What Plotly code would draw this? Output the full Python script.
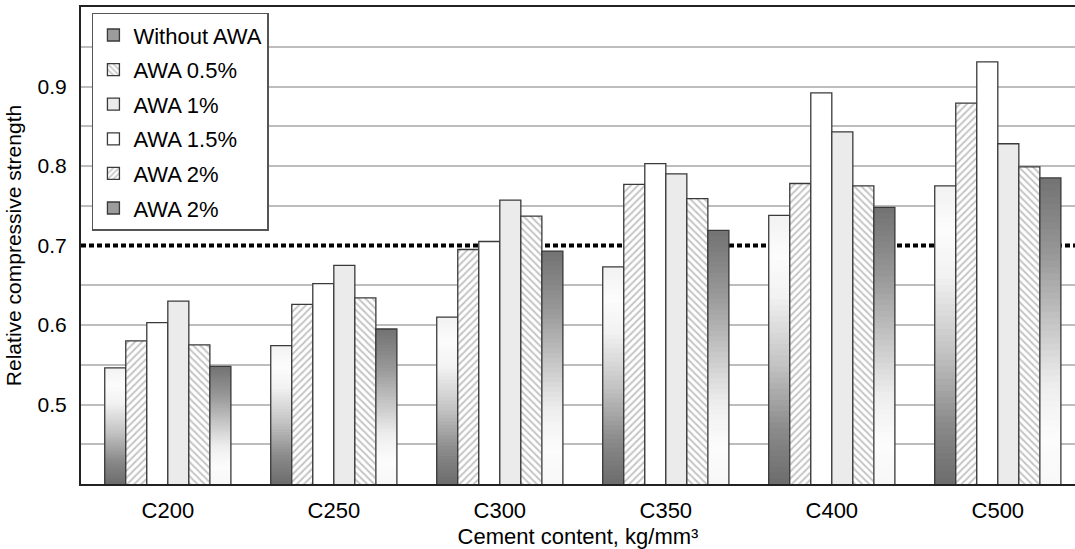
import plotly.graph_objects as go

# ---------------- data ----------------
categories = ["C200", "C250", "C300", "C350", "C400", "C500"]

# series in the order the bars appear inside each group (left -> right)
awa2_gradient = [0.546, 0.574, 0.610, 0.673, 0.738, 0.775]
awa2_hatch = [0.580, 0.626, 0.695, 0.777, 0.778, 0.879]
awa15 = [0.603, 0.652, 0.705, 0.803, 0.892, 0.931]
awa1 = [0.630, 0.675, 0.757, 0.790, 0.843, 0.828]
awa05 = [0.575, 0.634, 0.737, 0.759, 0.775, 0.799]
without_awa = [0.548, 0.595, 0.693, 0.719, 0.748, 0.785]

threshold = 0.7
y_tick_vals = [0.5, 0.6, 0.7, 0.8, 0.9]
y_tick_text = ["0.5", "0.6", "0.7", "0.8", "0.9"]

# ---------------- style ----------------
FONT = "Liberation Sans, Arial, sans-serif"
AXIS_MIN, AXIS_MAX = 0.4, 1.0
GRID_STEP = 0.05
OUTLINE = "#3a3a3a"
N_SEG = 48

# gridlines every 0.05, skipping the one hidden under the dotted threshold line
grid_vals = [round(AXIS_MIN + GRID_STEP * i, 2) for i in range(1, 13)]
grid_vals = [g for g in grid_vals if abs(g - threshold) > 1e-9]


def hex2rgb(h):
    h = h.lstrip("#")
    return tuple(int(h[i:i + 2], 16) for i in (0, 2, 4))


def interp(stops, t):
    for (t0, c0), (t1, c1) in zip(stops[:-1], stops[1:]):
        if t0 <= t <= t1:
            a = 0 if t1 == t0 else (t - t0) / (t1 - t0)
            r0, g0, b0 = hex2rgb(c0)
            r1, g1, b1 = hex2rgb(c1)
            return "rgb(%d,%d,%d)" % (round(r0 + (r1 - r0) * a),
                                       round(g0 + (g1 - g0) * a),
                                       round(b0 + (b1 - b0) * a))
    return stops[-1][1]


# relative height (0 = bottom of bar, 1 = top of bar) -> colour
grad_dark_bottom = [(0.0, "#6c6c6c"), (0.2, "#8a8a8a"), (0.45, "#c4c4c4"),
                    (0.7, "#f2f2f2"), (0.85, "#fcfcfc"), (1.0, "#f2f2f2")]
grad_dark_top = [(0.0, "#f8f8f8"), (0.15, "#fcfcfc"), (0.32, "#eeeeee"),
                 (0.52, "#c6c6c6"), (0.76, "#969696"), (1.0, "#727272")]

fig = go.Figure()


def gradient_series(name, values, stops, group, rank):
    # bars sharing one offsetgroup, drawn tallest first, build a vertical gradient
    for k in range(N_SEG):
        frac = 1 - k / N_SEG
        col = interp(stops, frac - 0.5 / N_SEG)
        fig.add_trace(go.Bar(
            x=categories,
            y=[(v - AXIS_MIN) * frac for v in values],
            base=[AXIS_MIN] * len(values),
            offsetgroup=group,
            marker=dict(color=col, line=dict(width=0)),
            showlegend=False, hoverinfo="skip",
        ))
    # outline
    fig.add_trace(go.Bar(
        x=categories, y=values, offsetgroup=group,
        marker=dict(color="rgba(0,0,0,0)", line=dict(color=OUTLINE, width=1.3)),
        showlegend=False, name=name,
    ))
    # legend entry
    fig.add_trace(go.Bar(
        x=categories, y=[None] * len(values), offsetgroup=group,
        name=name, legendrank=rank, legendgroup=group,
        marker=dict(color="#9c9c9c", line=dict(color=OUTLINE, width=1.3)),
        showlegend=True,
    ))


def plain_series(name, values, group, rank, color="#ffffff", shape=None):
    marker = dict(color=color, line=dict(color=OUTLINE, width=1.3))
    if shape:
        marker["pattern"] = dict(shape=shape, fgcolor="#8a8a8a", bgcolor="#ffffff",
                                 size=5, solidity=0.4, fillmode="overlay")
    fig.add_trace(go.Bar(x=categories, y=values, name=name, offsetgroup=group,
                         legendrank=rank, legendgroup=group, marker=marker))


gradient_series("AWA 2%", awa2_gradient, grad_dark_bottom, "g1", 6)
plain_series("AWA 2%", awa2_hatch, "g2", 5, shape="/")
plain_series("AWA 1.5%", awa15, "g3", 4, color="#ffffff")
plain_series("AWA 1%", awa1, "g4", 3, color="#ebebeb")
plain_series("AWA 0.5%", awa05, "g5", 2, shape="\\")
gradient_series("Without AWA", without_awa, grad_dark_top, "g6", 1)

fig.add_shape(type="line", xref="paper", x0=0, x1=1, yref="y", y0=threshold, y1=threshold,
              layer="between", line=dict(color="#000000", width=4, dash="5px,3px"))

fig.update_layout(
    width=1075, height=549,
    margin=dict(l=81, r=0, t=7, b=61),
    paper_bgcolor="white", plot_bgcolor="white",
    barmode="group", bargap=0.24, bargroupgap=0,
    font=dict(family=FONT, size=21, color="black"),
    legend=dict(x=0.011, y=0.988, xanchor="left", yanchor="top",
                traceorder="grouped", tracegroupgap=3,
                bgcolor="white", bordercolor="#555555", borderwidth=1.5,
                font=dict(family=FONT, size=22, color="black"),
                itemwidth=30),
    showlegend=True,
)

fig.update_xaxes(
    type="category", range=[-0.523, 5.465],
    showline=True, linecolor="#222222", linewidth=2, mirror=True,
    showgrid=False, ticks="", ticklabelstandoff=6,
    tickfont=dict(family=FONT, size=22, color="black"),
    title=dict(text="Cement content, kg/mm³", standoff=10,
               font=dict(family=FONT, size=22, color="black")),
)
fig.update_yaxes(
    range=[AXIS_MIN, AXIS_MAX], tickvals=y_tick_vals, ticktext=y_tick_text,
    showline=True, linecolor="#222222", linewidth=2,
    showgrid=False,
    minor=dict(tickmode="array", tickvals=grid_vals, showgrid=True,
               gridcolor="#bdbdbd", gridwidth=1.5, ticks=""),
    zeroline=False, ticks="", ticklabelstandoff=8,
    tickfont=dict(family=FONT, size=21, color="black"),
    title=dict(text="Relative compressive strength", standoff=10,
               font=dict(family=FONT, size=21, color="black")),
)

fig.write_html(
    "out.html",
    config={"displayModeBar": False},
    post_script="document.body.style.margin='0';document.body.style.overflow='hidden';",
)
